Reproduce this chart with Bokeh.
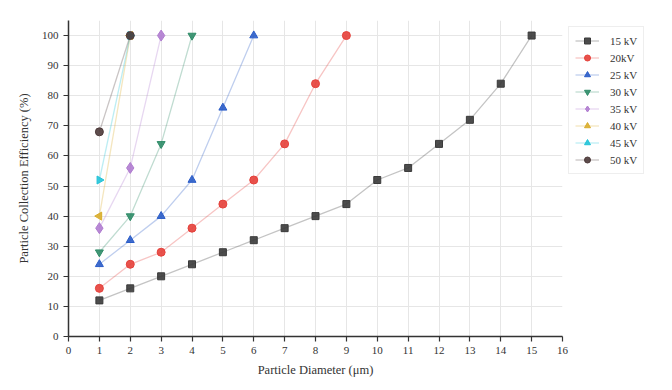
from bokeh.plotting import figure
from bokeh.models import FixedTicker, Range1d, Legend, LegendItem
from bokeh.embed import file_html
from bokeh.resources import INLINE
import math

series_names = ["15 kV", "20kV", "25 kV", "30 kV", "35 kV", "40 kV", "45 kV", "50 kV"]
x15 = list(range(1, 16))
y15 = [12, 16, 20, 24, 28, 32, 36, 40, 44, 52, 56, 64, 72, 84, 100]
x20 = list(range(1, 10))
y20 = [16, 24, 28, 36, 44, 52, 64, 84, 100]
x25 = [1, 2, 3, 4, 5, 6]
y25 = [24, 32, 40, 52, 76, 100]
x30 = [1, 2, 3, 4]
y30 = [28, 40, 64, 100]
x35 = [1, 2, 3]
y35 = [36, 56, 100]
x40 = [1, 2]
y40 = [40, 100]
x45 = [1, 2]
y45 = [52, 100]
x50 = [1, 2]
y50 = [68, 100]
x_ticks = list(range(0, 17))
y_ticks = list(range(0, 101, 10))

xs = [x15, x20, x25, x30, x35, x40, x45, x50]
ys = [y15, y20, y25, y30, y35, y40, y45, y50]
colors = ["#3a3a3a", "#e5403a", "#2a5cc8", "#2f8c68", "#b07cd0", "#d9ad2c", "#22c3d8", "#4d3a3a"]
markers = ["square", "circle", "triangle", "inverted_triangle", "diamond", "triangle", "triangle", "circle"]
angles = [0, 0, 0, 0, 0, math.pi / 2, -math.pi / 2, 0]
sizes = [7, 8, 8, 8, 11, 8, 8, 8]

FONT = "Liberation Serif"
TXT = "#333333"

p = figure(frame_width=494, frame_height=316, output_backend="svg", toolbar_location=None,
           x_range=Range1d(0, 16), y_range=Range1d(0, 105),
           min_border_left=68, min_border_right=0, min_border_top=20, min_border_bottom=38)
p.outline_line_color = None

items = []
for name, x, y, c, m, a, s in zip(series_names, xs, ys, colors, markers, angles, sizes):
    r1 = p.line(x, y, line_color=c, line_alpha=0.3, line_width=1.3)
    r2 = p.scatter(x, y, marker=m, angle=a, size=s, fill_color=c, line_color=c, fill_alpha=0.9)
    items.append(LegendItem(label=name, renderers=[r1, r2]))

legend = Legend(items=items, location="top_left")
legend.label_text_font = FONT
legend.label_text_font_size = "11px"
legend.label_text_color = TXT
legend.glyph_width = 24
legend.glyph_height = 15
legend.label_height = 15
legend.spacing = 2
legend.label_standoff = 11
legend.padding = 6
legend.margin = 6
legend.border_line_color = "#dddddd"
legend.background_fill_alpha = 1
p.add_layout(legend, "right")

for ax in (p.xaxis, p.yaxis):
    ax.axis_line_color = TXT
    ax.axis_line_width = 1.5
    ax.major_tick_line_color = TXT
    ax.major_tick_line_width = 1.2
    ax.major_tick_out = 5
    ax.major_tick_in = 0
    ax.minor_tick_line_color = None
    ax.major_label_text_font = FONT
    ax.major_label_text_font_size = "11px"
    ax.major_label_text_color = TXT
    ax.axis_label_text_font = FONT
    ax.axis_label_text_font_size = "12.5px"
    ax.axis_label_text_font_style = "normal"
    ax.axis_label_text_color = TXT

p.xaxis.ticker = FixedTicker(ticks=x_ticks)
p.yaxis.ticker = FixedTicker(ticks=y_ticks)
p.xaxis.axis_label = "Particle Diameter (μm)"
p.yaxis.axis_label = "Particle Collection Efficiency (%)"
p.xaxis.axis_label_standoff = 6
p.yaxis.axis_label_standoff = 8

p.xgrid.ticker = FixedTicker(ticks=x_ticks)
p.ygrid.ticker = FixedTicker(ticks=y_ticks)
p.grid.grid_line_color = "#e6e6e6"
p.grid.grid_line_width = 1

open("out.html", "w").write(file_html(p, INLINE))
